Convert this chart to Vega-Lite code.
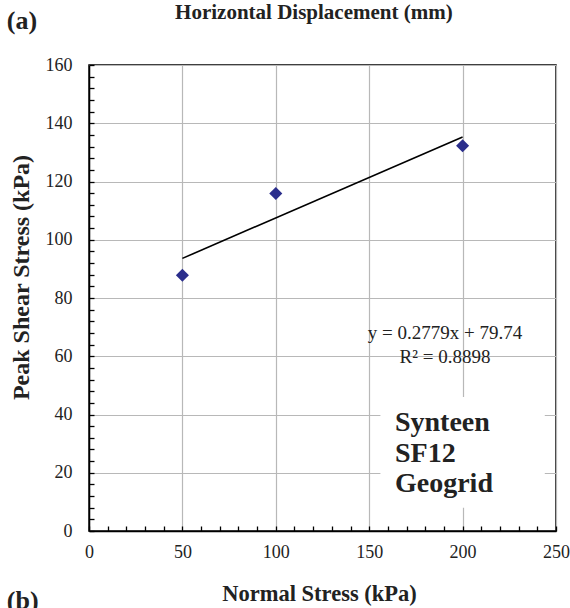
{
  "$schema": "https://vega.github.io/schema/vega-lite/v6.json",
  "width": 467,
  "height": 466,
  "autosize": "none",
  "padding": {"left": 89, "top": 65, "right": 14, "bottom": 77},
  "background": "white",
  "config": {
    "view": {"stroke": "black", "strokeWidth": 1.5},
    "font": "Liberation Serif"
  },
  "datasets": {
    "points": [
      {"normal_stress": 50, "peak_shear": 87.8},
      {"normal_stress": 100, "peak_shear": 115.9},
      {"normal_stress": 200, "peak_shear": 132.3}
    ],
    "trend": [
      {"normal_stress": 50, "peak_shear": 93.6},
      {"normal_stress": 200, "peak_shear": 135.3}
    ],
    "box": [
      {"normal_stress": 156, "x_end": 244, "peak_shear": 8, "y_end": 46}
    ],
    "equation": [
      {"normal_stress": 190.6, "peak_shear": 65.9, "label": "y = 0.2779x + 79.74"},
      {"normal_stress": 190.6, "peak_shear": 57.7, "label": "R² = 0.8898"}
    ],
    "material": [
      {"normal_stress": 163.8, "peak_shear": 34.3, "label": "Synteen"},
      {"normal_stress": 163.8, "peak_shear": 23.7, "label": "SF12"},
      {"normal_stress": 163.8, "peak_shear": 13.4, "label": "Geogrid"}
    ],
    "heading": [
      {"normal_stress": 120.4, "peak_shear": 175.8, "label": "Horizontal Displacement (mm)"}
    ],
    "panels": [
      {"normal_stress": -44, "peak_shear": 172.4, "label": "(a)"},
      {"normal_stress": -44, "peak_shear": -26.8, "label": "(b)"}
    ]
  },
  "encoding": {
    "x": {
      "field": "normal_stress",
      "type": "quantitative",
      "scale": {"domain": [0, 250], "nice": false, "zero": false},
      "axis": {
        "title": "Normal Stress (kPa)",
        "values": [0,10,20,30,40,50,60,70,80,90,100,110,120,130,140,150,160,170,180,190,200,210,220,230,240,250],
        "labelExpr": "datum.value % 50 === 0 ? datum.label : ''",
        "labelOverlap": false,
        "labelFlush": false,
        "labelFont": "Liberation Serif",
        "labelFontSize": 18,
        "labelColor": "#222222",
        "labelPadding": 17,
        "grid": true,
        "gridColor": "#b8b8b8",
        "gridWidth": 1.2,
        "gridOpacity": {"condition": {"test": "datum.value % 50 === 0", "value": 1}, "value": 0},
        "tickSize": -5,
        "tickColor": "black",
        "tickWidth": 1.3,
        "domainColor": "black",
        "domainWidth": 1.5,
        "titleFont": "Liberation Serif",
        "titleFontSize": 22.5,
        "titleFontWeight": "bold",
        "titleColor": "#222222",
        "titleX": 230,
        "titleY": 69,
        "titleBaseline": "alphabetic"
      }
    },
    "y": {
      "field": "peak_shear",
      "type": "quantitative",
      "scale": {"domain": [0, 160], "nice": false, "zero": false},
      "axis": {
        "title": "Peak Shear Stress (kPa)",
        "values": [0,4,8,12,16,20,24,28,32,36,40,44,48,52,56,60,64,68,72,76,80,84,88,92,96,100,104,108,112,116,120,124,128,132,136,140,144,148,152,156,160],
        "labelExpr": "datum.value % 20 === 0 ? datum.label : ''",
        "labelOverlap": false,
        "labelFlush": false,
        "labelFont": "Liberation Serif",
        "labelFontSize": 18,
        "labelColor": "#222222",
        "labelPadding": 22,
        "grid": true,
        "gridColor": "#b8b8b8",
        "gridWidth": 1.2,
        "gridOpacity": {"condition": {"test": "datum.value % 20 === 0", "value": 1}, "value": 0},
        "tickSize": -5,
        "tickColor": "black",
        "tickWidth": 1.3,
        "domainColor": "black",
        "domainWidth": 1.5,
        "titleFont": "Liberation Serif",
        "titleFontSize": 24,
        "titleFontWeight": "bold",
        "titleColor": "#222222",
        "titleAngle": -90,
        "titleX": -61,
        "titleY": 212,
        "titleBaseline": "alphabetic"
      }
    }
  },
  "layer": [
    {
      "data": {"name": "box"},
      "mark": {"type": "rect", "color": "white"},
      "encoding": {
        "x2": {"field": "x_end"},
        "y2": {"field": "y_end"}
      }
    },
    {
      "data": {"name": "trend"},
      "mark": {"type": "line", "color": "black", "strokeWidth": 1.6},
      "encoding": {}
    },
    {
      "data": {"name": "points"},
      "mark": {"type": "point", "shape": "diamond", "filled": true, "size": 170, "color": "#2b2e8c", "opacity": 1},
      "encoding": {}
    },
    {
      "data": {"name": "equation"},
      "mark": {"type": "text", "font": "Liberation Serif", "fontSize": 19, "color": "#222222", "align": "center", "baseline": "alphabetic"},
      "encoding": {"text": {"field": "label"}}
    },
    {
      "data": {"name": "material"},
      "mark": {"type": "text", "font": "Liberation Serif", "fontSize": 28, "fontWeight": "bold", "color": "#222222", "align": "left", "baseline": "alphabetic"},
      "encoding": {"text": {"field": "label"}}
    },
    {
      "data": {"name": "heading"},
      "mark": {"type": "text", "font": "Liberation Serif", "fontSize": 21, "fontWeight": "bold", "color": "#222222", "align": "center", "baseline": "alphabetic", "clip": false},
      "encoding": {"text": {"field": "label"}}
    },
    {
      "data": {"name": "panels"},
      "mark": {"type": "text", "font": "Liberation Serif", "fontSize": 26, "fontWeight": "bold", "color": "#222222", "align": "left", "baseline": "alphabetic", "clip": false},
      "encoding": {"text": {"field": "label"}}
    }
  ]
}
